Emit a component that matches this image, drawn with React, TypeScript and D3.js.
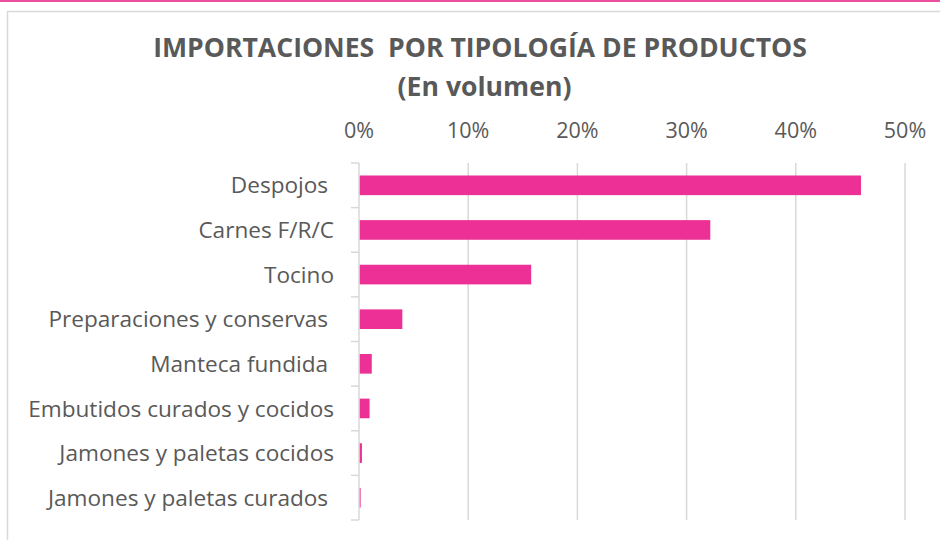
import React from "react";
import * as d3 from "d3";

const categories = [
  "Despojos ",
  "Carnes F/R/C",
  "Tocino",
  "Preparaciones y conservas ",
  "Manteca fundida ",
  "Embutidos curados y cocidos",
  "Jamones y paletas cocidos",
  "Jamones y paletas curados ",
];
const values = [0.459, 0.321, 0.157, 0.039, 0.011, 0.009, 0.002, 0.0008];
const tickValues = [0, 0.1, 0.2, 0.3, 0.4, 0.5];
const titleLine1 = "IMPORTACIONES  POR TIPOLOGÍA DE PRODUCTOS";
const titleLine2 = "(En volumen)";

const W = 940;
const H = 540;
const FONT = "'Open Sans', sans-serif";
const TEXT = "#595959";
const GRID = "#d9d9d9";
const BAR = "#EC3095";

export default function App() {
  const x = d3.scaleLinear().domain([0, 0.5]).range([359, 905]);
  const y = d3.scaleBand<string>().domain(categories).range([163, 520]).paddingInner(0.56).paddingOuter(0.28);
  const fmt = d3.format(".0%");
  const step = y.step();
  return (
    <svg width={W} height={H} style={{ position: "absolute", left: 0, top: 0, background: "#fff" }}>
      <rect x={0} y={0} width={W} height={H} fill="#fff" />
      <rect x={0} y={0} width={W} height={2} fill="#EC4FA0" />
      <rect x={7.5} y={11.5} width={W} height={H} fill="none" stroke={GRID} strokeWidth={1.5} />
      <text x={480} y={57} textAnchor="middle" fontFamily={FONT} fontWeight="bold" fontSize={26.6} fill={TEXT} style={{ whiteSpace: "pre" }}>
        {titleLine1}
      </text>
      <text x={484.5} y={96} textAnchor="middle" fontFamily={FONT} fontWeight="bold" fontSize={26.6} fill={TEXT}>
        {titleLine2}
      </text>
      {tickValues.map((t) => (
        <g key={t}>
          {t > 0 && <line x1={x(t)} x2={x(t)} y1={163} y2={520} stroke={GRID} strokeWidth={1.5} />}
          <text x={x(t)} y={138} textAnchor="middle" fontFamily={FONT} fontSize={21.5} fill={TEXT}>
            {fmt(t)}
          </text>
        </g>
      ))}
      <line x1={x(0)} x2={x(0)} y1={163} y2={520} stroke={GRID} strokeWidth={1.5} />
      {d3.range(categories.length + 1).map((i) => (
        <line key={i} x1={351} x2={x(0)} y1={163 + i * step} y2={163 + i * step} stroke={GRID} strokeWidth={1.5} />
      ))}
      {categories.map((c, i) => (
        <g key={c}>
          <rect x={x(0) + 0.75} y={y(c)} width={Math.max(0, x(values[i]) - x(0))} height={y.bandwidth()} fill={BAR} />
          <text
            x={334}
            y={(y(c) as number) + y.bandwidth() / 2}
            dy="0.36em"
            textAnchor="end"
            fontFamily={FONT}
            fontSize={22.6}
            fill={TEXT}
            style={{ whiteSpace: "pre" }}
          >
            {c}
          </text>
        </g>
      ))}
    </svg>
  );
}
